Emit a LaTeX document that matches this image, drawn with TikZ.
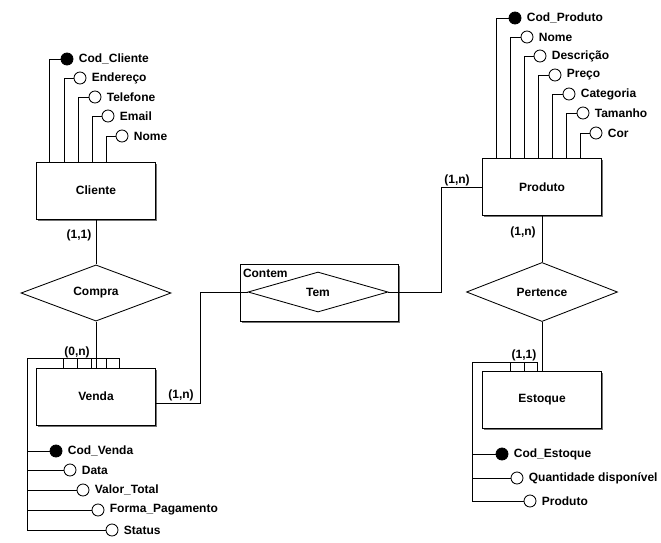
\documentclass[tikz,border=0pt]{standalone}
\usepackage{fontspec}
\setmainfont{Liberation Sans}
\usetikzlibrary{shapes.geometric,shadows}
\begin{document}
\begin{tikzpicture}[x=1pt,y=-1pt,
  font=\fontsize{12}{14}\selectfont\bfseries,
  line width=0.85pt,
  entity/.style={draw, fill=white, minimum width=119pt, minimum height=57pt, inner sep=0pt,
    general shadow={fill=black!55, shadow xshift=1.5pt, shadow yshift=-1.5pt}},
  relation/.style={draw, diamond, fill=white, inner sep=0pt},
  attr/.style={draw, circle, fill=white, minimum size=12pt, inner sep=0pt},
  keyattr/.style={attr, fill=black},
  attrlabel/.style={anchor=west, inner sep=0pt, xshift=5pt},
  card/.style={inner sep=0pt}
]
\useasboundingbox (0,0) rectangle (661,542);

% entities
\node[entity] (cliente) at (96,190.5) {Cliente};
\node[entity] (venda) at (96,396.5) {Venda};
\node[entity] (produto) at (542,187) {Produto};
\node[entity] (estoque) at (542,400) {Estoque};

% associative entity around the Tem relationship
\node[entity, minimum width=158pt, minimum height=57pt] (contem) at (319,292.5) {};
\node[anchor=north west, inner sep=0pt] (contemlbl) at ([xshift=3pt,yshift=-5pt]contem.north west) {Contem};

% relationships
\node[relation, minimum width=150pt, minimum height=50pt] (compra) at (96,293) {Compra};
\node[relation, minimum width=140pt, minimum height=40pt] (tem) at (318,292) {Tem};
\node[relation, minimum width=151pt, minimum height=50pt] (pertence) at (542,292) {Pertence};

% relationship lines
\draw (cliente) -- (compra);
\draw (compra) -- (venda);
\draw ([yshift=-6.5pt]venda.east) -- ++(44,0) |- (tem);
\draw (tem.east) -- ++(53,0) |- (produto);
\draw (produto) -- (pertence);
\draw (pertence) -- (estoque);

% cardinalities
\node[card] (cardcli) at (79,235) {(1,1)};
\node[card] (cardven) at (77,352) {(0,n)};
\node[card] (cardvt) at (181,395) {(1,n)};
\node[card] (cardtp) at (457,180) {(1,n)};
\node[card] (cardprod) at (523,232) {(1,n)};
\node[card] (cardest) at (524,355) {(1,1)};

% Cliente attributes
\node[keyattr] (ca1) at (67,59) {};
\node[attr] (ca2) at (80,78) {};
\node[attr] (ca3) at (95,97) {};
\node[attr] (ca4) at (108,116) {};
\node[attr] (ca5) at (122,136) {};
\node[attrlabel] at (ca1.east) {Cod\_Cliente};
\node[attrlabel] at (ca2.east) {Endereço};
\node[attrlabel] at (ca3.east) {Telefone};
\node[attrlabel] at (ca4.east) {Email};
\node[attrlabel] at (ca5.east) {Nome};
\draw (cliente.north west) ++(13.5,0) |- (ca1);
\draw (cliente.north west) ++(28,0) |- (ca2);
\draw (cliente.north west) ++(42,0) |- (ca3);
\draw (cliente.north west) ++(56,0) |- (ca4);
\draw (cliente.north west) ++(70,0) |- (ca5);

% Produto attributes
\node[keyattr] (pa1) at (515,18) {};
\node[attr] (pa2) at (527,37) {};
\node[attr] (pa3) at (540,56) {};
\node[attr] (pa4) at (555,75) {};
\node[attr] (pa5) at (569,94) {};
\node[attr] (pa6) at (583,113) {};
\node[attr] (pa7) at (596,133) {};
\node[attrlabel] at (pa1.east) {Cod\_Produto};
\node[attrlabel] at (pa2.east) {Nome};
\node[attrlabel] at (pa3.east) {Descrição};
\node[attrlabel] at (pa4.east) {Preço};
\node[attrlabel] at (pa5.east) {Categoria};
\node[attrlabel] at (pa6.east) {Tamanho};
\node[attrlabel] at (pa7.east) {Cor};
\draw (produto.north west) ++(14.5,0) |- (pa1);
\draw (produto.north west) ++(28.5,0) |- (pa2);
\draw (produto.north west) ++(42.5,0) |- (pa3);
\draw (produto.north west) ++(56.5,0) |- (pa4);
\draw (produto.north west) ++(70.5,0) |- (pa5);
\draw (produto.north west) ++(84.5,0) |- (pa6);
\draw (produto.north west) ++(98.5,0) |- (pa7);

% Venda attributes, routed over the top and down the left side
\coordinate (vrail) at (27,358);
\node[keyattr] (va1) at (56,451) {};
\node[attr] (va2) at (70,470) {};
\node[attr] (va3) at (83,490) {};
\node[attr] (va4) at (98,510) {};
\node[attr] (va5) at (112,530) {};
\node[attrlabel] at (va1.east) {Cod\_Venda};
\node[attrlabel] at (va2.east) {Data};
\node[attrlabel] at (va3.east) {Valor\_Total};
\node[attrlabel] at (va4.east) {Forma\_Pagamento};
\node[attrlabel] at (va5.east) {Status};
\draw (venda.north west) ++(27.5,0) |- (vrail) |- (va1);
\draw (venda.north west) ++(41.5,0) |- (vrail) |- (va2);
\draw (venda.north west) ++(55.5,0) |- (vrail) |- (va3);
\draw (venda.north west) ++(70.5,0) |- (vrail) |- (va4);
\draw (venda.north west) ++(83.5,0) |- (vrail) |- (va5);

% Estoque attributes
\coordinate (erail) at (472,362);
\node[keyattr] (ea1) at (502,454) {};
\node[attr] (ea2) at (517,478) {};
\node[attr] (ea3) at (530,501) {};
\node[attrlabel] at (ea1.east) {Cod\_Estoque};
\node[attrlabel] at (ea2.east) {Quantidade disponível};
\node[attrlabel] at (ea3.east) {Produto};
\draw (estoque.north west) ++(28.5,0) |- (erail) |- (ea1);
\draw (estoque.north west) ++(42.5,0) |- (erail) |- (ea2);
\draw (estoque.north west) ++(55.5,0) |- (erail) |- (ea3);
\end{tikzpicture}
\end{document}
